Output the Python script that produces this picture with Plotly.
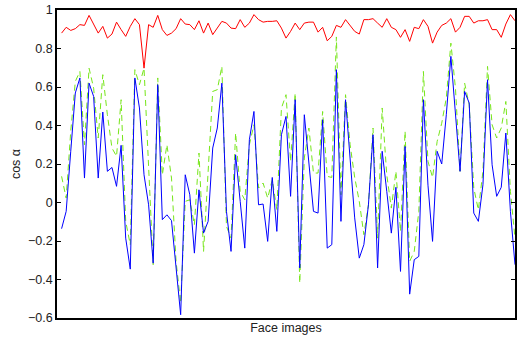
import plotly.graph_objects as go

face_index = list(range(1, 101))

red_series = [0.880, 0.910, 0.894, 0.903, 0.924, 0.920, 0.972, 0.924, 0.880, 0.915,
              0.854, 0.875, 0.937, 0.898, 0.863, 0.915, 0.955, 0.924, 0.698, 0.924,
              0.910, 0.972, 0.898, 0.868, 0.880, 0.903, 0.955, 0.927, 0.924, 0.898,
              0.944, 0.880, 0.932, 0.872, 0.910, 0.941, 0.932, 0.906, 0.903, 0.950,
              0.910, 0.932, 0.976, 0.950, 0.937, 0.941, 0.941, 0.944, 0.906, 0.854,
              0.889, 0.932, 0.898, 0.932, 0.937, 0.937, 0.885, 0.910, 0.840, 0.863,
              0.920, 0.910, 0.950, 0.920, 0.889, 0.875, 0.950, 0.950, 0.955, 0.932,
              0.910, 0.955, 0.910, 0.898, 0.858, 0.898, 0.837, 0.910, 0.903, 0.950,
              0.915, 0.828, 0.885, 0.920, 0.932, 0.955, 0.885, 0.910, 0.967, 0.967,
              0.932, 0.944, 0.944, 0.950, 0.898, 0.898, 0.858, 0.927, 0.976, 0.944]

blue_series = [-0.136, -0.046, 0.266, 0.569, 0.647, 0.127, 0.620, 0.551, 0.127, 0.470,
               0.162, 0.182, 0.084, 0.297, -0.185, -0.346, 0.647, 0.491, 0.144, -0.012,
               -0.315, 0.612, -0.089, -0.064, -0.094, -0.323, -0.583, 0.144, 0.040, -0.263,
               0.066, -0.159, -0.098, 0.283, 0.387, 0.620, -0.046, -0.254, 0.248, 0.006,
               -0.237, 0.326, 0.473, -0.012, -0.008, -0.202, 0.130, -0.150, 0.352, 0.447,
               0.032, 0.534, -0.340, 0.456, 0.214, -0.046, -0.055, 0.430, -0.237, -0.219,
               0.690, -0.098, 0.534, 0.220, -0.080, -0.289, -0.219, -0.012, 0.352, -0.340,
               0.266, 0.058, -0.159, 0.079, -0.358, 0.291, -0.476, -0.297, -0.280, 0.534,
               0.090, -0.202, 0.266, 0.200, 0.456, 0.759, 0.473, 0.162, 0.577, 0.517,
               -0.055, -0.098, 0.092, 0.638, 0.196, 0.032, 0.079, 0.361, -0.046, -0.323]

green_series = [0.136, 0.023, 0.370, 0.629, 0.681, 0.300, 0.698, 0.594, 0.335, 0.664,
                0.456, 0.283, 0.240, 0.534, -0.098, -0.219, 0.690, 0.612, 0.698, 0.162,
                -0.323, 0.647, 0.144, 0.300, 0.127, -0.306, -0.522, 0.006, 0.014, -0.116,
                0.257, -0.254, 0.150, 0.577, 0.586, 0.707, -0.124, -0.185, 0.361, 0.058,
                0.014, 0.300, 0.404, 0.075, 0.101, 0.023, 0.118, -0.038, 0.490, 0.560,
                0.214, 0.568, -0.418, 0.231, 0.387, 0.153, 0.153, 0.473, 0.136, 0.130,
                0.860, 0.040, 0.560, 0.300, 0.130, 0.006, -0.167, -0.012, 0.387, -0.185,
                0.491, 0.144, -0.029, 0.162, -0.150, 0.370, -0.306, -0.254, -0.046, 0.681,
                0.214, 0.130, 0.317, 0.412, 0.543, 0.828, 0.594, 0.162, 0.620, 0.508,
                0.075, -0.038, 0.162, 0.707, 0.404, 0.335, 0.387, 0.525, 0.058, -0.185]

y_ticks = [-0.6, -0.4, -0.2, 0, 0.2, 0.4, 0.6, 0.8, 1]

fig = go.Figure()
fig.add_trace(go.Scatter(x=face_index, y=red_series, mode="lines",
                         line=dict(color="#ff0000", width=1)))
fig.add_trace(go.Scatter(x=face_index, y=green_series, mode="lines",
                         line=dict(color="#77e61a", width=1, dash="6px,4px")))
fig.add_trace(go.Scatter(x=face_index, y=blue_series, mode="lines",
                         line=dict(color="#0000ff", width=1)))

font = dict(family="Liberation Sans, Arial, sans-serif", size=12, color="#222222")

fig.update_layout(
    width=517, height=340,
    margin=dict(l=57, r=0, t=10, b=22),
    paper_bgcolor="white", plot_bgcolor="white",
    showlegend=False,
    font=font,
    xaxis=dict(range=[0, 100], showticklabels=False, ticks="", showgrid=False,
               zeroline=False, showline=True, linecolor="black", linewidth=1.5,
               mirror=True,
               title=dict(text="Face images", font=dict(size=12.5), standoff=4)),
    yaxis=dict(range=[-0.6, 1], tickvals=y_ticks, ticks="inside", ticklen=4,
               tickcolor="black", showgrid=False, zeroline=False, showline=True,
               linecolor="black", linewidth=1.5, mirror="ticks",
               tickfont=dict(size=12.5),
               title=dict(text="cos α", font=dict(size=12.5), standoff=5)),
)

fig.write_html("out.html")
